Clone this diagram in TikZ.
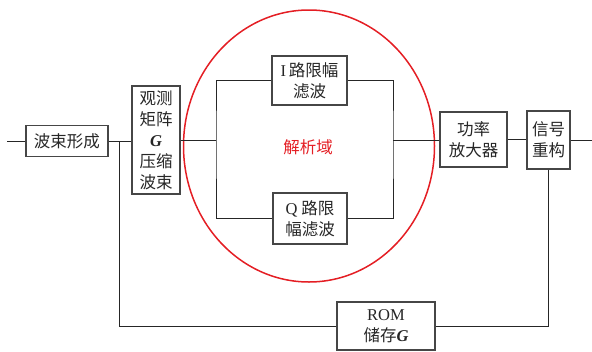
\documentclass[tikz,border=0pt]{standalone}
\usepackage{fontspec}
\setmainfont{Liberation Serif}
\newfontfamily\cjk{Noto Sans CJK SC}
\newfontfamily\latn{Liberation Serif}
\newcommand\GG{{\latn\bfseries\itshape G}}
\definecolor{boxgray}{RGB}{70,70,70}
\definecolor{redring}{RGB}{228,30,36}
\begin{document}
\begin{tikzpicture}[x=1pt,y=-1pt,
  blk/.style={draw=boxgray,line width=1.1pt,rectangle,inner sep=0pt,align=center,
    font=\fontsize{16.5}{21}\cjk,text=black!85},
  wire/.style={draw=black!85,line width=0.9pt}]
\useasboundingbox (0,0) rectangle (592,351);
\node[blk,minimum width=82,minimum height=31] (bf) at (67,141) {波束形成};
\node[blk,minimum width=48,minimum height=108] (gc) at (156,140) {观测\\矩阵\\\GG\\压缩\\波束};
\node[blk,minimum width=75,minimum height=49] (ib) at (309.5,80.5) {{\latn I}\,路限幅\\滤波};
\node[blk,minimum width=74,minimum height=51] (qb) at (310,218.5) {{\latn Q} 路限\\幅滤波};
\node[blk,minimum width=67,minimum height=55] (pa) at (473.5,139.5) {功率\\放大器};
\node[blk,minimum width=43,minimum height=58] (sr) at (548.5,140) {信号\\重构};
\node[blk,minimum width=98,minimum height=48] (rom) at (386,326) {{\latn ROM}\\储存\GG};
\node[font=\fontsize{16.5}{21}\cjk,text=redring] (dom) at (308,147) {解析域};
\draw[redring,line width=1.5pt] (309,146) ellipse [x radius=125.5,y radius=136];
\coordinate (in) at (7,141);
\coordinate (split) at (119,141);
\coordinate (fl) at (216,140);
\coordinate (fr) at (393,140);
\coordinate (out) at (592,140);
\draw[wire] (in) -- (bf.west);
\draw[wire] (bf.east) -- (bf.east -| gc.west);
\draw[wire] (split) |- (rom.west);
\draw[wire] (gc.east) -- (fl);
\draw[wire] (ib.west) -| (fl) |- (qb.west);
\draw[wire] (ib.east) -| (fr) |- (qb.east);
\draw[wire] (fr) -- (fr -| pa.west);
\draw[wire] (pa.east) -- (pa.east -| sr.west);
\draw[wire] (sr.east) -- (out);
\draw[wire] (sr.south) |- (rom.east);
\end{tikzpicture}
\end{document}
